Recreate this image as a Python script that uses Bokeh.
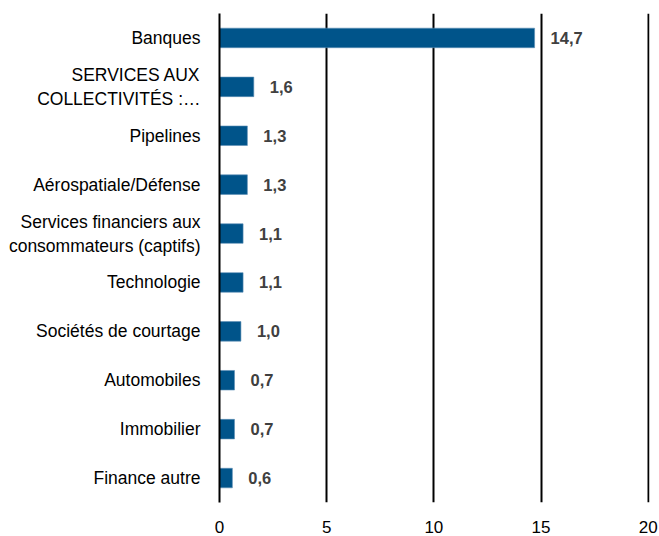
from bokeh.plotting import figure
from bokeh.models import ColumnDataSource, Range1d, FactorRange, FixedTicker
from bokeh.embed import file_html
from bokeh.resources import INLINE
from bokeh.core.properties import value

categories = [
    "Banques",
    "SERVICES AUX\nCOLLECTIVITÉS :…",
    "Pipelines",
    "Aérospatiale/Défense",
    "Services financiers aux\nconsommateurs (captifs)",
    "Technologie",
    "Sociétés de courtage",
    "Automobiles",
    "Immobilier",
    "Finance autre",
]
values = [14.7, 1.6, 1.3, 1.3, 1.1, 1.1, 1.0, 0.7, 0.7, 0.6]
x_ticks = [0, 5, 10, 15, 20]

labels = [f"{v:.1f}".replace(".", ",") for v in values]
src = ColumnDataSource(dict(cat=categories, val=values, lab=labels))

FONT = "Liberation Sans"

p = figure(
    width=659, height=536,
    y_range=FactorRange(*reversed(categories)),
    x_range=Range1d(0, 20.06),
    output_backend="svg", toolbar_location=None,
    min_border_left=219, min_border_right=10,
    min_border_top=13, min_border_bottom=34,
)
p.outline_line_color = None
p.background_fill_color = "white"

p.hbar(y="cat", right="val", left=0, height=0.4, source=src,
       fill_color="#00548A", line_color="#5E8FB5", line_width=0.6)

p.text(x="val", y="cat", text="lab", source=src, x_offset=16,
       text_align="left", text_baseline="middle",
       text_font=value(FONT), text_font_size="16.5px",
       text_font_style="bold", text_color="#404040")

p.xgrid.ticker = FixedTicker(ticks=x_ticks)
p.xgrid.grid_line_color = "black"
p.xgrid.grid_line_width = 2
p.ygrid.grid_line_color = None

p.xaxis.ticker = FixedTicker(ticks=x_ticks)
p.xaxis.axis_line_color = None
p.xaxis.major_tick_line_color = None
p.xaxis.minor_tick_line_color = None
p.xaxis.major_label_text_font = FONT
p.xaxis.major_label_text_font_size = "17px"
p.xaxis.major_label_text_color = "#000000"
p.xaxis.major_label_standoff = 12

p.yaxis.axis_line_color = "black"
p.yaxis.axis_line_width = 2
p.yaxis.major_tick_line_color = None
p.yaxis.minor_tick_line_color = None
p.yaxis.major_label_text_font = FONT
p.yaxis.major_label_text_font_size = "17.5px"
p.yaxis.major_label_text_color = "#000000"
p.yaxis.major_label_standoff = 13

open("out.html", "w").write(file_html(p, INLINE))
